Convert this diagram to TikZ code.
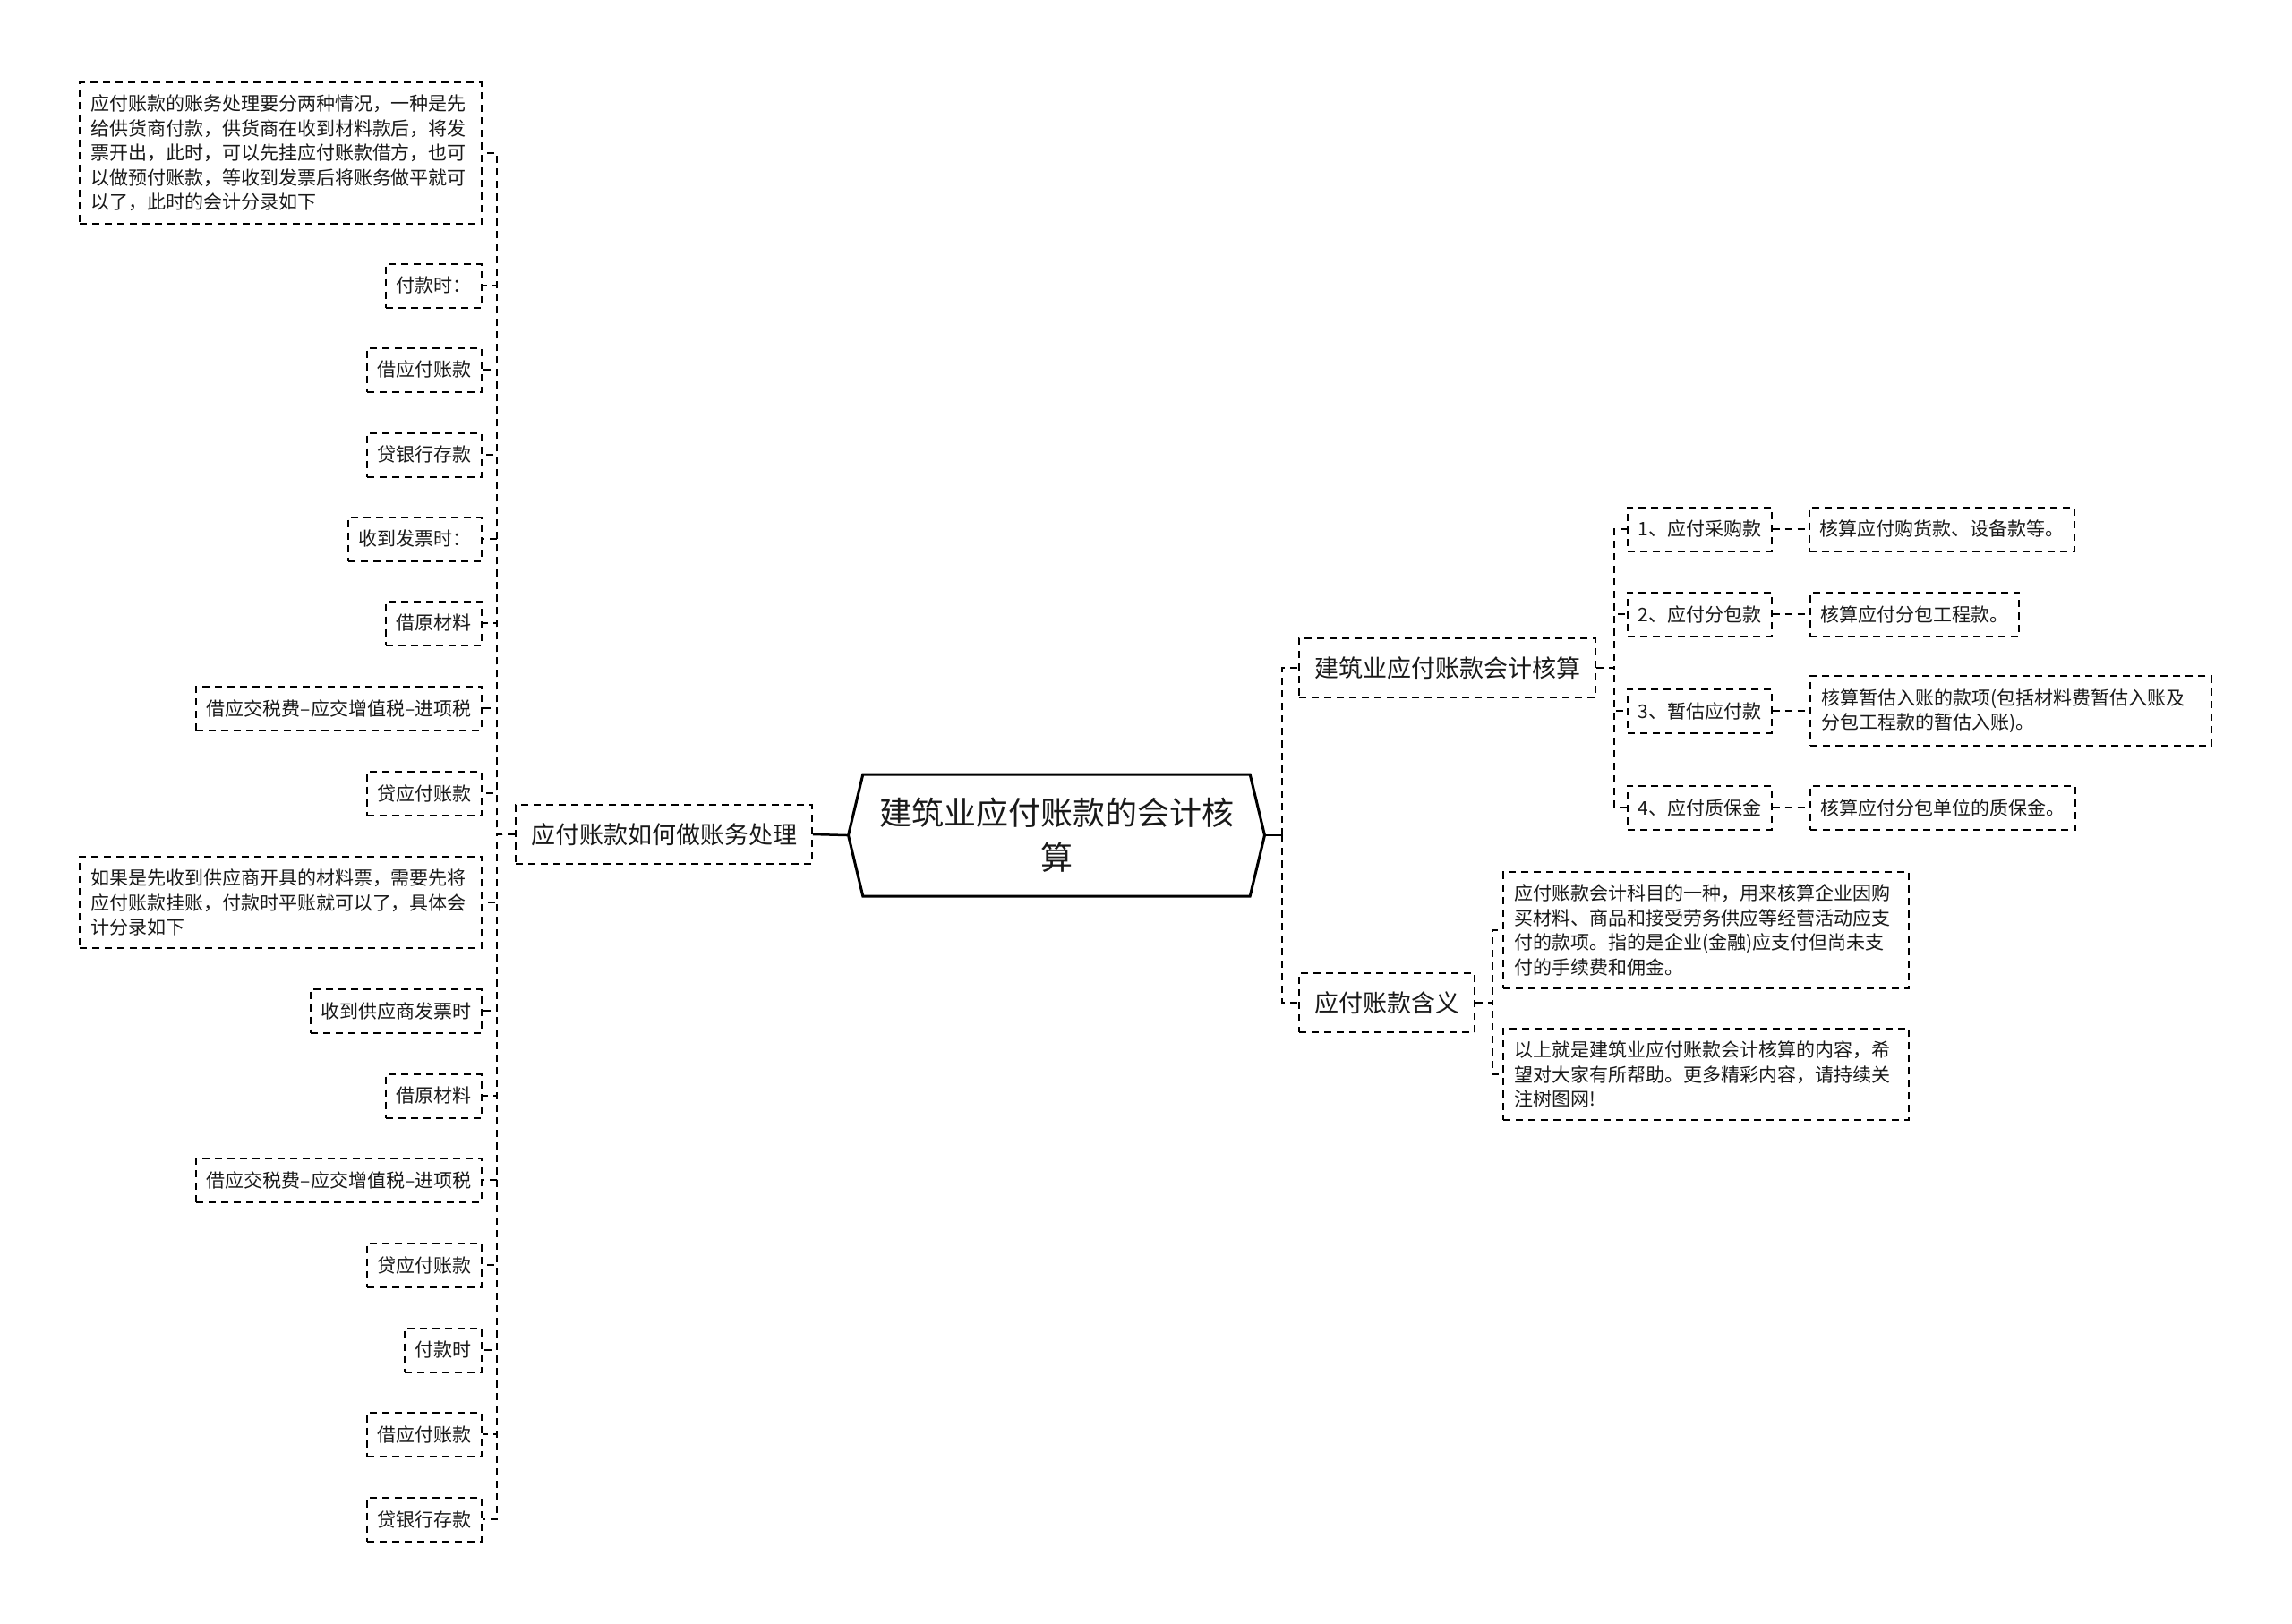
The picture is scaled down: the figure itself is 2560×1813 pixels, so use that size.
\documentclass[tikz,border=0pt]{standalone}
\usepackage{fontspec}
\setmainfont{Noto Sans CJK SC}
\usetikzlibrary{positioning,shapes.symbols}

\begin{document}
\begin{tikzpicture}[
  x=1pt, y=-1pt,
  every node/.style={text=black!90},
  topic/.style={signal, signal to=west and east, signal pointer angle=153,
    draw, line width=3pt, fill=white, align=center, minimum width=465pt,
    minimum height=136pt, inner sep=0pt, font=\fontsize{36pt}{50pt}\selectfont},
  branch/.style={draw, dash pattern=on 8pt off 6pt, line width=2pt,
    minimum height=66pt, inner xsep=17pt, font=\fontsize{27pt}{34pt}\selectfont},
  leaf/.style={draw, dash pattern=on 8pt off 6pt, line width=2pt,
    minimum height=49pt, inner xsep=11.5pt, font=\fontsize{21pt}{27.5pt}\selectfont},
  para/.style={leaf, align=left, inner xsep=12pt, inner ysep=14pt},
  link/.style={dash pattern=on 8pt off 6pt, line width=2pt},
  trunk/.style={line width=2.5pt}
]
\useasboundingbox (0,0) rectangle (2560,1813);

% centre and first level
\node[topic] (root) at (1180,933) {建筑业应付账款的会计核\\算};
\node[branch, anchor=east] (acct) at (908,932) {应付账款如何做账务处理};
\node[branch, anchor=west] (calc) at (1450,746) {建筑业应付账款会计核算};
\node[branch, anchor=west] (mean) at (1450,1120) {应付账款含义};

% left side: entries
\node[para, anchor=east, text width=425pt] (e1) at (539,171) {应付账款的账务处理要分两种情况，一种是先\\给供货商付款，供货商在收到材料款后，将发\\票开出，此时，可以先挂应付账款借方，也可\\以做预付账款，等收到发票后将账务做平就可\\以了，此时的会计分录如下};
\node[leaf, anchor=east] (e2) at (539,319) {付款时：};
\node[leaf, anchor=east] (e3) at (539,413) {借应付账款};
\node[leaf, anchor=east] (e4) at (539,508) {贷银行存款};
\node[leaf, anchor=east] (e5) at (539,602) {收到发票时：};
\node[leaf, anchor=east] (e6) at (539,696) {借原材料};
\node[leaf, anchor=east] (e7) at (539,791) {借应交税费–应交增值税–进项税};
\node[leaf, anchor=east] (e8) at (539,886) {贷应付账款};
\node[para, anchor=east, text width=425pt] (e9) at (539,1008) {如果是先收到供应商开具的材料票，需要先将\\应付账款挂账，付款时平账就可以了，具体会\\计分录如下};
\node[leaf, anchor=east] (e10) at (539,1129) {收到供应商发票时};
\node[leaf, anchor=east] (e11) at (539,1224) {借原材料};
\node[leaf, anchor=east] (e12) at (539,1318) {借应交税费–应交增值税–进项税};
\node[leaf, anchor=east] (e13) at (539,1413) {贷应付账款};
\node[leaf, anchor=east] (e14) at (539,1508) {付款时};
\node[leaf, anchor=east] (e15) at (539,1602) {借应付账款};
\node[leaf, anchor=east] (e16) at (539,1697) {贷银行存款};

% right side: kinds and their notes
\node[leaf, anchor=west] (k1) at (1817,591) {1、应付采购款};
\node[leaf, anchor=west] (k2) at (1817,686) {2、应付分包款};
\node[leaf, anchor=west] (k3) at (1817,794) {3、暂估应付款};
\node[leaf, anchor=west] (k4) at (1817,902) {4、应付质保金};
\node[leaf, anchor=west] (n1) at (2020,591) {核算应付购货款、设备款等。};
\node[leaf, anchor=west] (n2) at (2021,686) {核算应付分包工程款。};
\node[para, anchor=west, text width=424pt] (n3) at (2021,794) {核算暂估入账的款项(包括材料费暂估入账及\\分包工程款的暂估入账)。};
\node[leaf, anchor=west] (n4) at (2021,902) {核算应付分包单位的质保金。};
\node[para, anchor=west, text width=429pt] (m1) at (1678,1039) {应付账款会计科目的一种，用来核算企业因购\\买材料、商品和接受劳务供应等经营活动应支\\付的款项。指的是企业(金融)应支付但尚未支\\付的手续费和佣金。};
\node[para, anchor=west, text width=429pt] (m2) at (1678,1200) {以上就是建筑业应付账款会计核算的内容，希\\望对大家有所帮助。更多精彩内容，请持续关\\注树图网!};

% connectors
\draw[trunk] (root.west) -- (acct.east);
\coordinate (hub) at ([xshift=18pt]root.east);
\draw[trunk] (root.east) -- (hub);
\draw[link] (hub) |- (calc.west);
\draw[link] (hub) |- (mean.west);

\foreach \e in {e1,e2,e3,e4,e5,e6,e7,e8,e9,e10,e11,e12,e13,e14,e15,e16}
  \draw[link] (acct.west) -- ++(-20,0) |- (\e.east);

\foreach \k in {k1,k2,k3,k4}
  \draw[link] (calc.east) -- ++(20,0) |- (\k.west);
\draw[link] (k1.east) -- (n1.west);
\draw[link] (k2.east) -- (n2.west);
\draw[link] (k3.east) -- (n3.west);
\draw[link] (k4.east) -- (n4.west);

\draw[link] (mean.east) -- ++(19,0) |- (m1.west);
\draw[link] (mean.east) -- ++(19,0) |- (m2.west);

\end{tikzpicture}
\end{document}
